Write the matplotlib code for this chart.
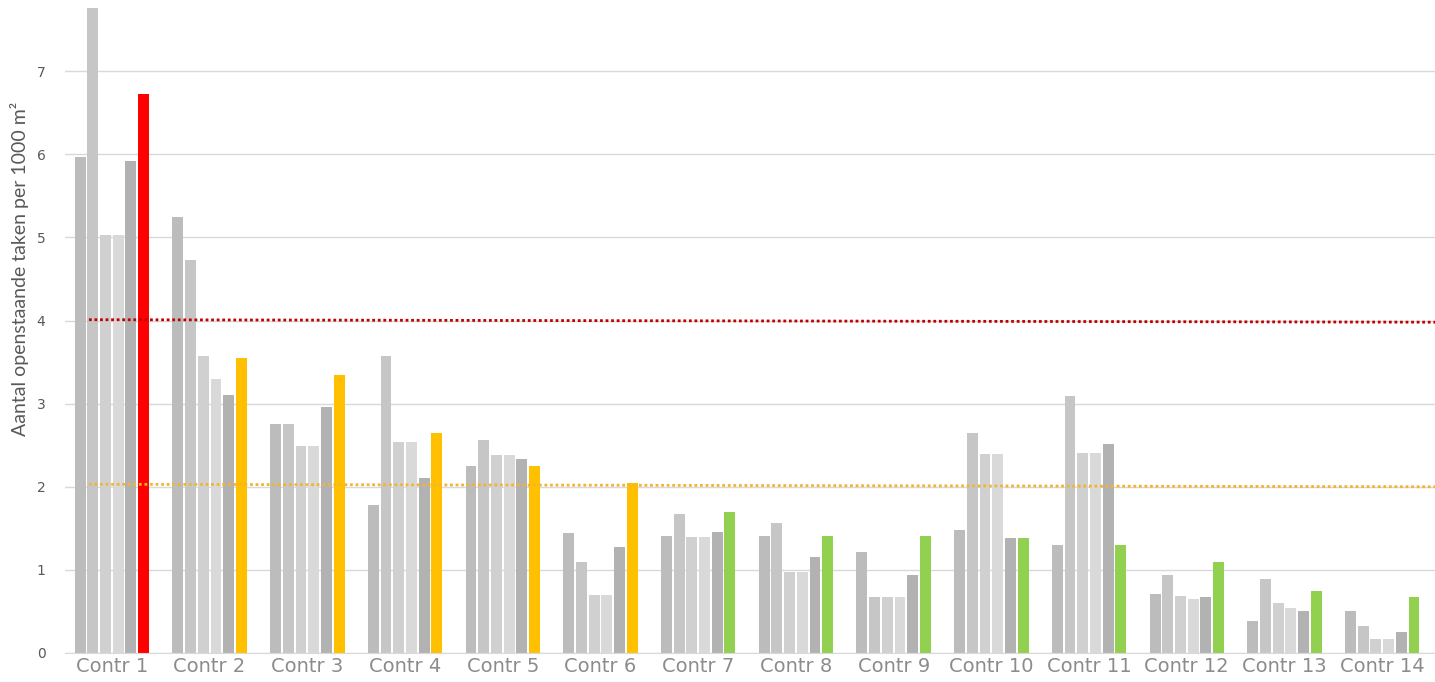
import numpy as np
import matplotlib
matplotlib.use('Agg')
from matplotlib import pyplot as plt

# data
groups = ['Contr 1', 'Contr 2', 'Contr 3', 'Contr 4', 'Contr 5', 'Contr 6', 'Contr 7',
          'Contr 8', 'Contr 9', 'Contr 10', 'Contr 11', 'Contr 12', 'Contr 13', 'Contr 14']
s1 = [5.97, 5.25, 2.75, 1.78, 2.25, 1.44, 1.41, 1.41, 1.22, 1.48, 1.30, 0.71, 0.39, 0.51]
s2 = [7.80, 4.73, 2.76, 3.57, 2.56, 1.09, 1.67, 1.57, 0.67, 2.65, 3.09, 0.94, 0.89, 0.33]
s3 = [5.03, 3.57, 2.49, 2.54, 2.38, 0.70, 1.40, 0.97, 0.67, 2.39, 2.41, 0.68, 0.60, 0.17]
s4 = [5.03, 3.30, 2.49, 2.54, 2.38, 0.70, 1.40, 0.97, 0.67, 2.39, 2.41, 0.65, 0.54, 0.17]
s5 = [5.92, 3.10, 2.96, 2.10, 2.33, 1.27, 1.46, 1.15, 0.94, 1.38, 2.52, 0.67, 0.51, 0.25]
current = [6.73, 3.55, 3.35, 2.65, 2.25, 2.05, 1.70, 1.41, 1.41, 1.38, 1.30, 1.09, 0.75, 0.67]
current_colors = ['#ff0000'] + ['#ffc000'] * 5 + ['#92d050'] * 8
red_limit = [4.01, 3.98]
orange_limit = [2.03, 2.00]

plt.close('all')
fig = plt.figure(figsize=(14.35, 6.82), dpi=100)
ax = fig.add_axes([65 / 1435, 29 / 682, 1 - 65 / 1435, (653 - 8) / 682])

x = np.arange(len(groups))
step = 0.13
width = 0.112
grays = ['#bcbcbc', '#c6c6c6', '#d0d0d0', '#d9d9d9', '#b2b2b2']
for i, (vals, c) in enumerate(zip([s1, s2, s3, s4, s5], grays)):
    ax.bar(x + (i - 2.5) * step, vals, width, color=c, zorder=2)
ax.bar(x + 2.5 * step, current, width, color=current_colors, zorder=2)

# limit lines
ax.plot([-0.235, 13.54], red_limit, color='#c00000', lw=2, ls=(0, (1, 1)), zorder=3)
ax.plot([-0.235, 13.54], orange_limit, color='#f2b431', lw=2, ls=(0, (1, 1)), zorder=3)

ax.set_xlim(-0.48, 13.54)
ax.set_ylim(0, 7.76)
ax.set_yticks(range(0, 8))
ax.grid(axis='y', color='#d9d9d9', lw=1, zorder=0)
for s in ['top', 'right', 'left']:
    ax.spines[s].set_visible(False)
ax.spines['bottom'].set_color('#d9d9d9')
ax.tick_params(axis='y', length=0, labelsize=10, labelcolor='#595959', pad=14)
ax.tick_params(axis='x', length=0, labelsize=14, labelcolor='#8c8c8c', pad=3)
ax.set_xticks(x)
ax.set_xticklabels(groups)
ax.set_ylabel('Aantal openstaande taken per 1000 m²', fontsize=14, color='#595959',
              family=['Lato', 'DejaVu Sans'])
ax.yaxis.set_label_coords(-0.026, 0.595)

plt.savefig('out.png', dpi=100)
